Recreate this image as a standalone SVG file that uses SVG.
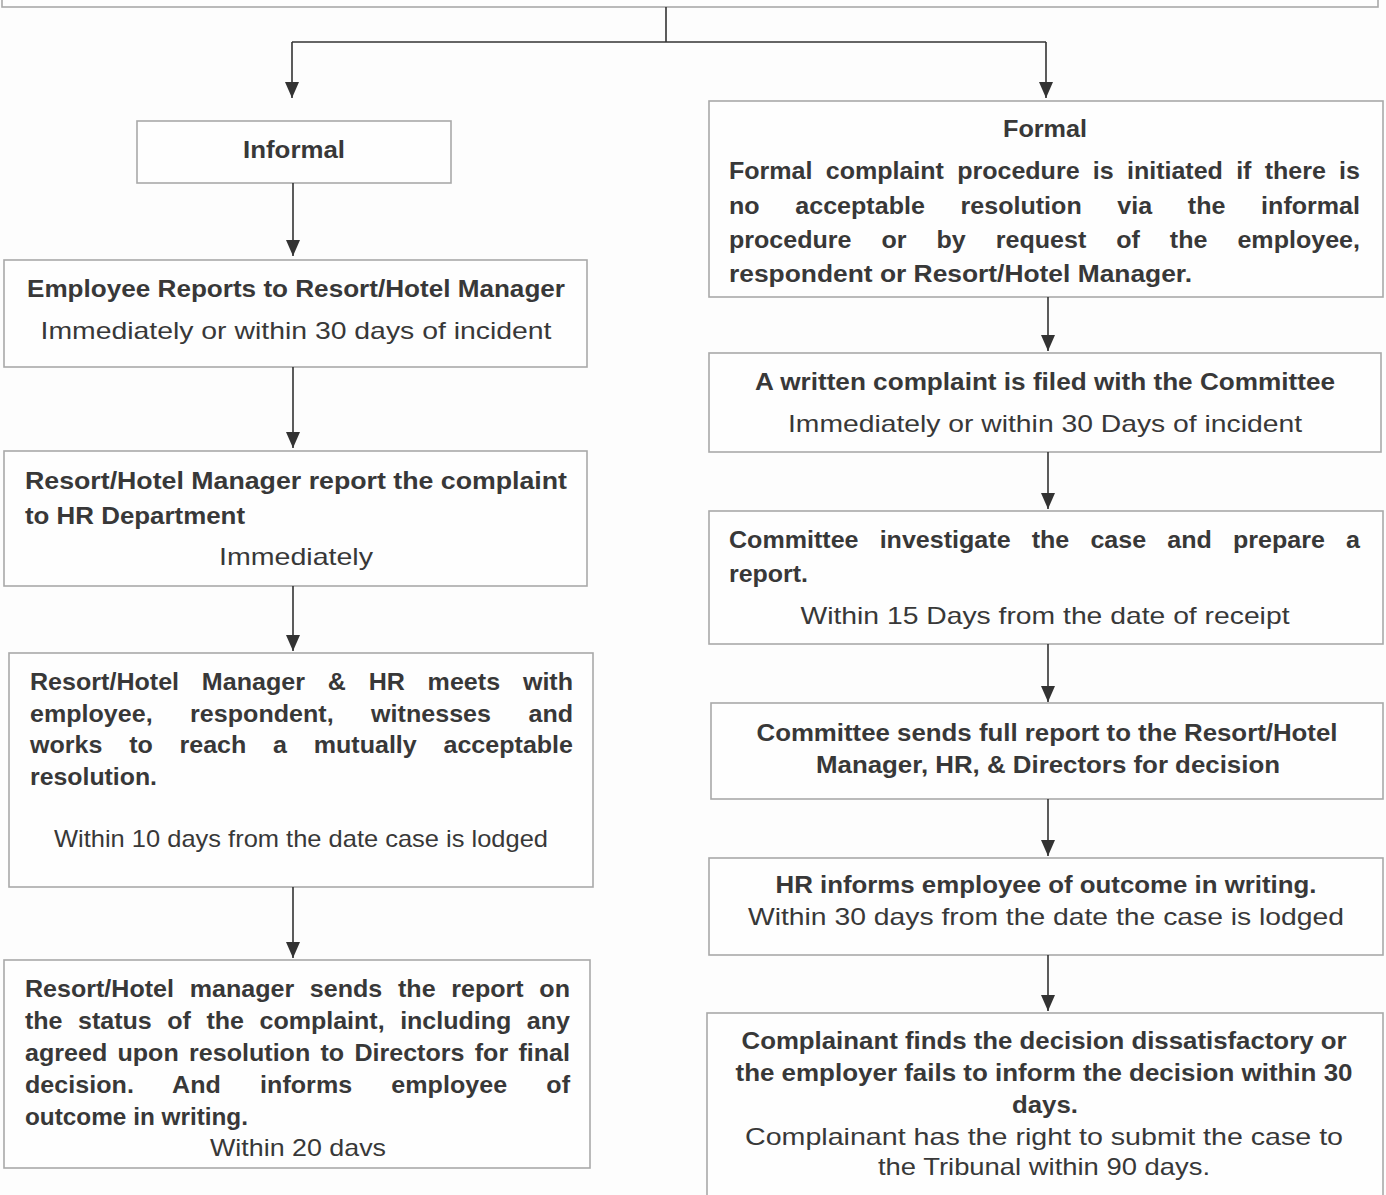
<svg xmlns="http://www.w3.org/2000/svg" width="1386" height="1195" viewBox="0 0 1386 1195">
<defs>
<marker id="arr" markerUnits="userSpaceOnUse" markerWidth="16" markerHeight="14" viewBox="0 0 16 14" refX="16" refY="7" orient="auto">
<path d="M0,0 L16,7 L0,14 z" fill="#333"/>
</marker>
<style>
.box{fill:#fefefe;stroke:#a9a9a9;stroke-width:1.6}
.b{font-family:"Liberation Sans",Arial,sans-serif;font-weight:bold;font-size:23px;fill:#383838}
.r{font-family:"Liberation Sans",Arial,sans-serif;font-size:24px;fill:#383838}
.c{text-anchor:middle}
.ln{stroke:#333;stroke-width:1.6;fill:none}
</style>
</defs>
<rect width="1386" height="1195" fill="#fdfdfd"/>

<g id="top"><rect class="box" x="2" y="-20" width="1376" height="27"/></g>

<g id="informal">
<rect class="box" x="137" y="121" width="314" height="62"/>
<text class="b c" x="294" y="158" textLength="102" lengthAdjust="spacingAndGlyphs">Informal</text>
</g>
<g id="employee-reports">
<rect class="box" x="4" y="260" width="583" height="107"/>
<text class="b c" x="296" y="297" textLength="538" lengthAdjust="spacingAndGlyphs">Employee Reports to Resort/Hotel Manager</text>
<text class="r c" x="296" y="339" textLength="511" lengthAdjust="spacingAndGlyphs">Immediately or within 30 days of incident</text>
</g>
<g id="manager-report">
<rect class="box" x="4" y="451" width="583" height="135"/>
<text class="b" x="25" y="489" textLength="542" lengthAdjust="spacingAndGlyphs">Resort/Hotel Manager report the complaint</text>
<text class="b" x="25" y="524" textLength="220" lengthAdjust="spacingAndGlyphs">to HR Department</text>
<text class="r c" x="296" y="565" textLength="154" lengthAdjust="spacingAndGlyphs">Immediately</text>
</g>
<g id="meets">
<rect class="box" x="9" y="653" width="584" height="234"/>
<text class="b" transform="translate(30 0) scale(1.09 1)" x="0" y="690" style="word-spacing:14.5px" textLength="498.2" lengthAdjust="spacing">Resort/Hotel Manager &amp; HR meets with</text>
<text class="b" transform="translate(30 0) scale(1.09 1)" x="0" y="722" style="word-spacing:28px" textLength="498.2" lengthAdjust="spacing">employee, respondent, witnesses and</text>
<text class="b" transform="translate(30 0) scale(1.09 1)" x="0" y="753" style="word-spacing:18.1px" textLength="498.2" lengthAdjust="spacing">works to reach a mutually acceptable</text>
<text class="b" x="30" y="785" textLength="127" lengthAdjust="spacingAndGlyphs">resolution.</text>
<text class="r c" x="301" y="847" textLength="494" lengthAdjust="spacingAndGlyphs">Within 10 days from the date case is lodged</text>
</g>
<g id="sends-report">
<rect class="box" x="4" y="960" width="586" height="208"/>
<text class="b" transform="translate(25 0) scale(1.09 1)" x="0" y="997" style="word-spacing:8px" textLength="500" lengthAdjust="spacing">Resort/Hotel manager sends the report on</text>
<text class="b" transform="translate(25 0) scale(1.09 1)" x="0" y="1029" style="word-spacing:7.9px" textLength="500" lengthAdjust="spacing">the status of the complaint, including any</text>
<text class="b" transform="translate(25 0) scale(1.09 1)" x="0" y="1061" style="word-spacing:3px" textLength="500" lengthAdjust="spacing">agreed upon resolution to Directors for final</text>
<text class="b" transform="translate(25 0) scale(1.09 1)" x="0" y="1093" style="word-spacing:29.5px" textLength="500" lengthAdjust="spacing">decision. And informs employee of</text>
<text class="b" x="25" y="1125" textLength="223" lengthAdjust="spacingAndGlyphs">outcome in writing.</text>
<text class="r c" x="298" y="1156" textLength="176" lengthAdjust="spacingAndGlyphs">Within 20 davs</text>
</g>

<g id="formal">
<rect class="box" x="709" y="101" width="674" height="196"/>
<text class="b c" x="1045" y="137" textLength="84" lengthAdjust="spacingAndGlyphs">Formal</text>
<text class="b" transform="translate(729 0) scale(1.09 1)" x="0" y="179" style="word-spacing:5.8px" textLength="578.9" lengthAdjust="spacing">Formal complaint procedure is initiated if there is</text>
<text class="b" transform="translate(729 0) scale(1.09 1)" x="0" y="214" style="word-spacing:26.3px" textLength="578.9" lengthAdjust="spacing">no acceptable resolution via the informal</text>
<text class="b" transform="translate(729 0) scale(1.09 1)" x="0" y="248" style="word-spacing:21.1px" textLength="578.9" lengthAdjust="spacing">procedure or by request of the employee,</text>
<text class="b" x="729" y="282" textLength="463" lengthAdjust="spacingAndGlyphs">respondent or Resort/Hotel Manager.</text>
</g>
<g id="written-complaint">
<rect class="box" x="709" y="353" width="672" height="99"/>
<text class="b c" x="1045" y="390" textLength="580" lengthAdjust="spacingAndGlyphs">A written complaint is filed with the Committee</text>
<text class="r c" x="1045" y="432" textLength="514" lengthAdjust="spacingAndGlyphs">Immediately or within 30 Days of incident</text>
</g>
<g id="investigate">
<rect class="box" x="709" y="511" width="674" height="133"/>
<text class="b" transform="translate(729 0) scale(1.09 1)" x="0" y="548" style="word-spacing:13px" textLength="578.9" lengthAdjust="spacing">Committee investigate the case and prepare a</text>
<text class="b" x="729" y="582" textLength="79" lengthAdjust="spacingAndGlyphs">report.</text>
<text class="r c" x="1045" y="624" textLength="489" lengthAdjust="spacingAndGlyphs">Within 15 Days from the date of receipt</text>
</g>
<g id="committee-sends">
<rect class="box" x="711" y="703" width="672" height="96"/>
<text class="b c" x="1047" y="741" textLength="581" lengthAdjust="spacingAndGlyphs">Committee sends full report to the Resort/Hotel</text>
<text class="b c" x="1048" y="773" textLength="464" lengthAdjust="spacingAndGlyphs">Manager, HR, &amp; Directors for decision</text>
</g>
<g id="hr-informs">
<rect class="box" x="709" y="858" width="674" height="97"/>
<text class="b c" x="1046" y="893" textLength="541" lengthAdjust="spacingAndGlyphs">HR informs employee of outcome in writing.</text>
<text class="r c" x="1046" y="925" textLength="596" lengthAdjust="spacingAndGlyphs">Within 30 days from the date the case is lodged</text>
</g>
<g id="complainant">
<rect class="box" x="707" y="1013" width="676" height="190"/>
<text class="b c" x="1044" y="1049" textLength="605" lengthAdjust="spacingAndGlyphs">Complainant finds the decision dissatisfactory or</text>
<text class="b c" x="1044" y="1081" textLength="617" lengthAdjust="spacingAndGlyphs">the employer fails to inform the decision within 30</text>
<text class="b c" x="1045" y="1113" textLength="66" lengthAdjust="spacingAndGlyphs">days.</text>
<text class="r c" x="1044" y="1145" textLength="598" lengthAdjust="spacingAndGlyphs">Complainant has the right to submit the case to</text>
<text class="r c" x="1044" y="1175" textLength="332" lengthAdjust="spacingAndGlyphs">the Tribunal within 90 days.</text>
</g>

<g id="connectors">
<path class="ln" d="M666,7 V42"/>
<path class="ln" d="M292,42 H1046"/>
<path class="ln" d="M292,42 V98" marker-end="url(#arr)"/>
<path class="ln" d="M1046,42 V98" marker-end="url(#arr)"/>
<path class="ln" d="M293,183 V256" marker-end="url(#arr)"/>
<path class="ln" d="M293,367 V448" marker-end="url(#arr)"/>
<path class="ln" d="M293,586 V651" marker-end="url(#arr)"/>
<path class="ln" d="M293,887 V958" marker-end="url(#arr)"/>
<path class="ln" d="M1048,297 V351" marker-end="url(#arr)"/>
<path class="ln" d="M1048,452 V509" marker-end="url(#arr)"/>
<path class="ln" d="M1048,644 V702" marker-end="url(#arr)"/>
<path class="ln" d="M1048,799 V856" marker-end="url(#arr)"/>
<path class="ln" d="M1048,955 V1011" marker-end="url(#arr)"/>
</g>
</svg>
